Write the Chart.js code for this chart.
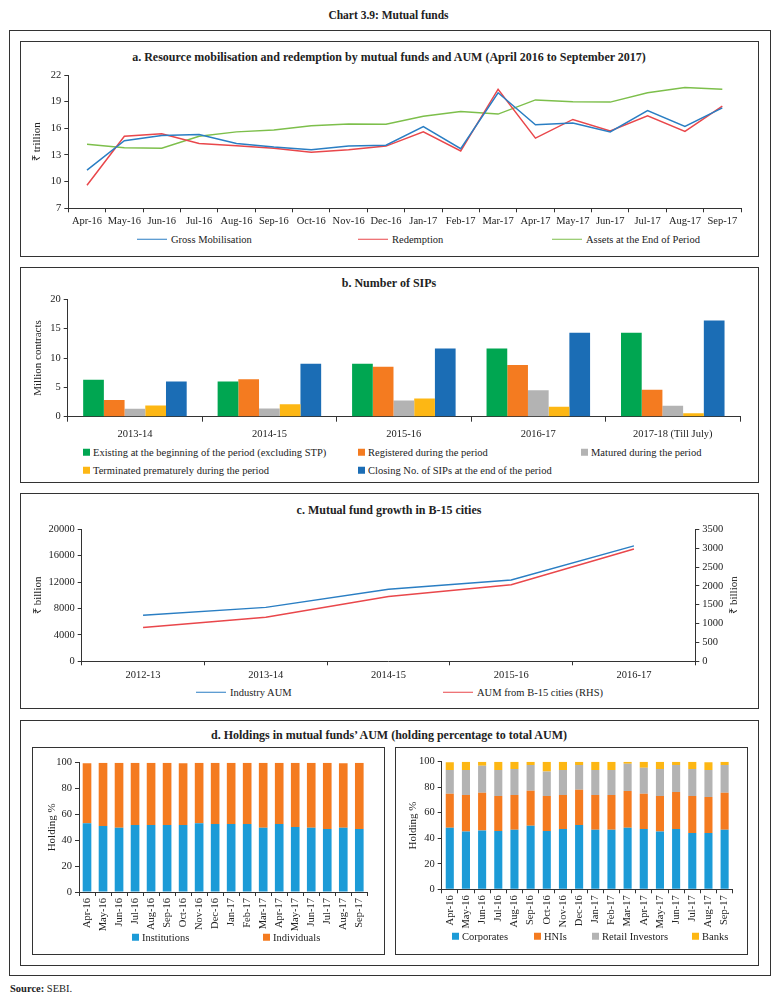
<!DOCTYPE html>
<html>
<head>
<meta charset="utf-8">
<script src="https://cdn.jsdelivr.net/npm/chart.js@4.4.0/dist/chart.umd.min.js"></script>
<style>
    body { margin: 0; background: #fff; font-family: "Liberation Serif", serif; color: #222; }
    #page { position: relative; width: 777px; height: 997px; overflow: hidden; }
    .box { position: absolute; border: 1px solid #333; box-sizing: border-box; }
    .ttl { position: absolute; left: 20px; width: 738px; text-align: center; font-weight: bold; font-size: 12px; line-height: 1; transform: translateY(-50%); }
    canvas { position: absolute; }
    .leg { position: absolute; font-size: 10.5px; line-height: 1; white-space: nowrap; transform: translateY(-50%); }
    .ln { display: inline-block; width: 30px; height: 0; border-top: 1.5px solid; vertical-align: middle; margin-right: 4px; position: relative; top: -1px; }
    .sq { display: inline-block; width: 7px; height: 7px; vertical-align: middle; margin-right: 3px; position: relative; top: -1px; }
    .rtitle { position: absolute; width: 60px; margin-left: -30px; text-align: center; font-size: 11px; font-weight: normal; color: #222; line-height: 12px; height: 12px; margin-top: -6px; white-space: nowrap; transform: rotate(-90deg); }
</style>
</head>
<body>
<div id="page">
    <div class="ttl" style="left:0;width:777px;top:16px;font-size:11.5px;">Chart 3.9: Mutual funds</div>
    <div class="box" style="left:9px;top:30px;width:762px;height:946px;"></div>

    <div class="box" style="left:20px;top:41px;width:739px;height:216px;"></div>
    <div class="ttl" style="top:57px;">a. Resource mobilisation and redemption by mutual funds and AUM (April 2016 to September 2017)</div>
    <canvas id="chartA" width="738" height="170" style="left:20px;top:62px;"></canvas>

    <div class="box" style="left:20px;top:267px;width:739px;height:216px;"></div>
    <div class="ttl" style="top:283px;">b. Number of SIPs</div>
    <canvas id="chartB" width="738" height="150" style="left:20px;top:290px;"></canvas>

    <div class="box" style="left:20px;top:493px;width:739px;height:216px;"></div>
    <div class="ttl" style="top:510px;">c. Mutual fund growth in B-15 cities</div>
    <canvas id="chartC" width="738" height="165" style="left:20px;top:520px;"></canvas>
    <div class="rtitle" style="left:733px;top:595px;">₹ billion</div>

    <div class="box" style="left:20px;top:720px;width:739px;height:246px;"></div>
    <div class="ttl" style="top:735px;">d. Holdings in mutual funds’ AUM (holding percentage to total AUM)</div>
    <div class="box" style="left:32px;top:747px;width:353px;height:208px;"></div>
    <div class="box" style="left:395px;top:747px;width:353px;height:208px;"></div>
    <canvas id="chartD1" width="350" height="195" style="left:32px;top:750px;"></canvas>
    <canvas id="chartD2" width="350" height="195" style="left:395px;top:750px;"></canvas>

    <div id="legends"></div>

    <div style="position:absolute;left:10px;top:983px;font-size:10.5px;"><b>Source:</b> SEBI.</div>
</div>

<script>
    // a. monthly flows, ₹ trillion
    const months = ["Apr-16", "May-16", "Jun-16", "Jul-16", "Aug-16", "Sep-16", "Oct-16", "Nov-16", "Dec-16",
        "Jan-17", "Feb-17", "Mar-17", "Apr-17", "May-17", "Jun-17", "Jul-17", "Aug-17", "Sep-17"];
    const grossMobilisation = [11.3, 14.6, 15.2, 15.3, 14.3, 13.9, 13.6, 14.0, 14.1, 16.2, 13.7, 20.0, 16.4, 16.6, 15.6, 18.0, 16.2, 18.3];
    const redemption = [9.6, 15.1, 15.4, 14.3, 14.05, 13.75, 13.3, 13.6, 14.0, 15.6, 13.45, 20.4, 14.9, 17.0, 15.7, 17.4, 15.65, 18.5];
    const assetsEnd = [14.2, 13.8, 13.75, 15.1, 15.6, 15.8, 16.3, 16.5, 16.45, 17.35, 17.9, 17.6, 19.2, 19.0, 18.95, 20.0, 20.6, 20.4];
    const ticksA = [7, 10, 13, 16, 19, 22];

    // b. SIPs, million contracts
    const sipYears = ["2013-14", "2014-15", "2015-16", "2016-17", "2017-18 (Till July)"];
    const sipExisting = [6.3, 6.0, 9.0, 11.6, 14.3];
    const sipRegistered = [2.85, 6.4, 8.5, 8.8, 4.6];
    const sipMatured = [1.35, 1.4, 2.75, 4.5, 1.85];
    const sipTerminated = [1.9, 2.1, 3.1, 1.7, 0.6];
    const sipClosing = [6.0, 9.0, 11.6, 14.3, 16.4];

    // c. B-15 cities, ₹ billion
    const b15Years = ["2012-13", "2013-14", "2014-15", "2015-16", "2016-17"];
    const industryAum = [6970, 8170, 10900, 12330, 17490];
    const b15Aum = [895, 1170, 1720, 2030, 2980];

    // d. holdings, % of total AUM
    const institutions = [53.1, 51.0, 49.7, 51.8, 51.8, 51.8, 51.8, 53.1, 52.6, 52.6, 52.6, 49.7, 52.6, 50.3, 49.7, 48.7, 49.7, 48.7];
    const individuals = [46.4, 49.0, 50.3, 48.2, 48.2, 48.2, 47.7, 46.9, 47.4, 47.4, 47.4, 50.3, 47.4, 49.7, 50.3, 51.3, 49.8, 51.3];
    const corporates = [48.3, 45.2, 46.0, 45.7, 46.7, 49.9, 45.7, 47.3, 50.4, 46.7, 46.7, 48.3, 47.3, 45.2, 47.3, 44.1, 44.1, 46.7];
    const hnis = [26.6, 28.7, 29.7, 27.4, 27.2, 27.4, 27.4, 26.6, 27.7, 27.2, 27.2, 28.7, 27.6, 27.9, 28.9, 29.0, 28.2, 29.0];
    const retailInvestors = [18.6, 19.6, 21.2, 20.4, 20.4, 20.1, 19.3, 19.6, 19.3, 19.6, 19.6, 21.4, 20.4, 21.2, 21.2, 21.2, 21.2, 21.7];
    const banks = [6.0, 6.5, 3.1, 6.5, 5.7, 2.6, 7.6, 6.5, 2.6, 6.5, 6.5, 1.6, 4.7, 5.7, 2.6, 5.7, 6.0, 2.6];

    const BLUE = "#2a7ec3", RED = "#e9474b", LGREEN = "#7dbf4b";
    const GREEN = "#00a651", ORANGE = "#f47b20", GREY = "#b3b3b3", YELLOW = "#fdb714", DBLUE = "#1b6db5", SKY = "#1c9bd7";

    Chart.defaults.font.family = "'Liberation Serif', serif";
    Chart.defaults.font.size = 10.5;
    Chart.defaults.color = "#222";
    Chart.defaults.animation = false;

    const gridTicks = { drawOnChartArea: false, drawTicks: true, tickLength: 4, color: "#333" };
    const axisBorder = { color: "#333", width: 1 };
    const plain = v => String(v); // no thousands separators

    function fixW(w) { return s => { s.width = w; }; }
    function fixH(h) { return s => { s.height = h; }; }

    function yTitle(text, pad) {
        return { display: true, text: text, font: { size: 11 }, padding: { top: pad, bottom: 0 } };
    }

    const baseOpts = {
        responsive: false,
        plugins: { legend: { display: false }, tooltip: { enabled: false } }
    };

    // a. line chart
    new Chart(document.getElementById("chartA"), {
        type: "line",
        data: {
            labels: months,
            datasets: [
                { data: grossMobilisation, borderColor: BLUE, borderWidth: 1.5, pointRadius: 0, tension: 0 },
                { data: redemption, borderColor: RED, borderWidth: 1.5, pointRadius: 0, tension: 0 },
                { data: assetsEnd, borderColor: LGREEN, borderWidth: 1.5, pointRadius: 0, tension: 0 }
            ]
        },
        options: {
            ...baseOpts,
            layout: { padding: { left: 0, top: 13, right: 17, bottom: 0 } },
            scales: {
                x: {
                    offset: true,
                    grid: { ...gridTicks, offset: true },
                    border: axisBorder,
                    ticks: { maxRotation: 0, autoSkip: false, padding: 3 },
                    afterFit: fixH(23.7)
                },
                y: {
                    min: 7, max: 22,
                    afterBuildTicks: s => { s.ticks = ticksA.map(v => ({ value: v })); },
                    grid: gridTicks,
                    border: axisBorder,
                    ticks: { padding: 3 },
                    title: yTitle("₹ trillion", 10.4),
                    afterFit: fixW(48.3)
                }
            }
        }
    });

    // b. grouped bars
    new Chart(document.getElementById("chartB"), {
        type: "bar",
        data: {
            labels: sipYears,
            datasets: [
                { data: sipExisting, backgroundColor: GREEN },
                { data: sipRegistered, backgroundColor: ORANGE },
                { data: sipMatured, backgroundColor: GREY },
                { data: sipTerminated, backgroundColor: YELLOW },
                { data: sipClosing, backgroundColor: DBLUE }
            ]
        },
        options: {
            ...baseOpts,
            datasets: { bar: { categoryPercentage: 0.77, barPercentage: 1.0 } },
            layout: { padding: { left: 0, top: 7.3, right: 18, bottom: 0 } },
            scales: {
                x: {
                    grid: { ...gridTicks, offset: true, tickLength: 5 },
                    border: axisBorder,
                    ticks: { maxRotation: 0, autoSkip: false, padding: 6 },
                    afterFit: fixH(23.3)
                },
                y: {
                    min: 0, max: 20,
                    ticks: { stepSize: 5, padding: 3 },
                    grid: gridTicks,
                    border: axisBorder,
                    title: yTitle("Million contracts", 11.7),
                    afterFit: fixW(47.7)
                }
            }
        }
    });

    // c. dual-axis lines
    new Chart(document.getElementById("chartC"), {
        type: "line",
        data: {
            labels: b15Years,
            datasets: [
                { data: industryAum, borderColor: BLUE, borderWidth: 1.5, pointRadius: 0, tension: 0, yAxisID: "y" },
                { data: b15Aum, borderColor: RED, borderWidth: 1.5, pointRadius: 0, tension: 0, yAxisID: "y1" }
            ]
        },
        options: {
            ...baseOpts,
            layout: { padding: { left: 0, top: 8.3, right: 0, bottom: 0 } },
            scales: {
                x: {
                    offset: true,
                    grid: { ...gridTicks, offset: true },
                    border: axisBorder,
                    ticks: { maxRotation: 0, autoSkip: false, padding: 4 },
                    afterFit: fixH(23.7)
                },
                y: {
                    position: "left",
                    min: 0, max: 20000,
                    ticks: { stepSize: 4000, padding: 3, callback: plain },
                    grid: gridTicks,
                    border: axisBorder,
                    title: yTitle("₹ billion", 11.7),
                    afterFit: fixW(61.7)
                },
                y1: {
                    position: "right",
                    min: 0, max: 3500,
                    ticks: { stepSize: 500, padding: 3, callback: plain },
                    grid: gridTicks,
                    border: axisBorder,
                    afterFit: fixW(62.7)
                }
            }
        }
    });

    // d. stacked holdings
    function holdingChart(id, datasets, barPct, padR, yW, xH, padTop, titlePad) {
        new Chart(document.getElementById(id), {
            type: "bar",
            data: { labels: months, datasets: datasets },
            options: {
                ...baseOpts,
                datasets: { bar: { categoryPercentage: 1.0, barPercentage: barPct } },
                layout: { padding: { left: 0, top: padTop, right: padR, bottom: 0 } },
                scales: {
                    x: {
                        stacked: true,
                        grid: { ...gridTicks, offset: true },
                        border: axisBorder,
                        ticks: { minRotation: 90, maxRotation: 90, autoSkip: false, padding: 2 },
                        afterFit: fixH(xH)
                    },
                    y: {
                        stacked: true,
                        min: 0, max: 100,
                        ticks: { stepSize: 20, padding: 3 },
                        grid: gridTicks,
                        border: axisBorder,
                        title: yTitle("Holding %", titlePad),
                        afterFit: fixW(yW)
                    }
                }
            }
        });
    }

    holdingChart("chartD1", [
        { data: institutions, backgroundColor: SKY },
        { data: individuals, backgroundColor: ORANGE }
    ], 0.54, 14.7, 47, 53, 12.7, 13.4);

    holdingChart("chartD2", [
        { data: corporates, backgroundColor: SKY },
        { data: hnis, backgroundColor: ORANGE },
        { data: retailInvestors, backgroundColor: GREY },
        { data: banks, backgroundColor: YELLOW }
    ], 0.5, 12.3, 46.7, 55.7, 11.7, 12);

    // legends (html)
    const legendItems = [
        { x: 137, y: 240, kind: "ln", color: BLUE, text: "Gross Mobilisation" },
        { x: 358, y: 240, kind: "ln", color: RED, text: "Redemption" },
        { x: 552, y: 240, kind: "ln", color: LGREEN, text: "Assets at the End of Period" },
        { x: 83, y: 453, kind: "sq", color: GREEN, text: "Existing at the beginning of the period (excluding STP)" },
        { x: 358, y: 453, kind: "sq", color: ORANGE, text: "Registered during the period" },
        { x: 581, y: 453, kind: "sq", color: GREY, text: "Matured during the period" },
        { x: 83, y: 471, kind: "sq", color: YELLOW, text: "Terminated prematurely during the period" },
        { x: 358, y: 471, kind: "sq", color: DBLUE, text: "Closing No. of SIPs at the end of the period" },
        { x: 196, y: 693, kind: "ln", color: BLUE, text: "Industry AUM" },
        { x: 443, y: 693, kind: "ln", color: RED, text: "AUM from B-15 cities (RHS)" },
        { x: 132, y: 938, kind: "sq", color: SKY, text: "Institutions" },
        { x: 263, y: 938, kind: "sq", color: ORANGE, text: "Individuals" },
        { x: 452, y: 937, kind: "sq", color: SKY, text: "Corporates" },
        { x: 534, y: 937, kind: "sq", color: ORANGE, text: "HNIs" },
        { x: 592, y: 937, kind: "sq", color: GREY, text: "Retail Investors" },
        { x: 692, y: 937, kind: "sq", color: YELLOW, text: "Banks" }
    ];
    const legendsEl = document.getElementById("legends");
    legendItems.forEach(it => {
        const d = document.createElement("div");
        d.className = "leg";
        d.style.left = it.x + "px";
        d.style.top = it.y + "px";
        const mark = document.createElement("span");
        mark.className = it.kind;
        if (it.kind === "ln") mark.style.borderTopColor = it.color;
        else mark.style.background = it.color;
        d.appendChild(mark);
        d.appendChild(document.createTextNode(it.text));
        legendsEl.appendChild(d);
    });
</script>
</body>
</html>
